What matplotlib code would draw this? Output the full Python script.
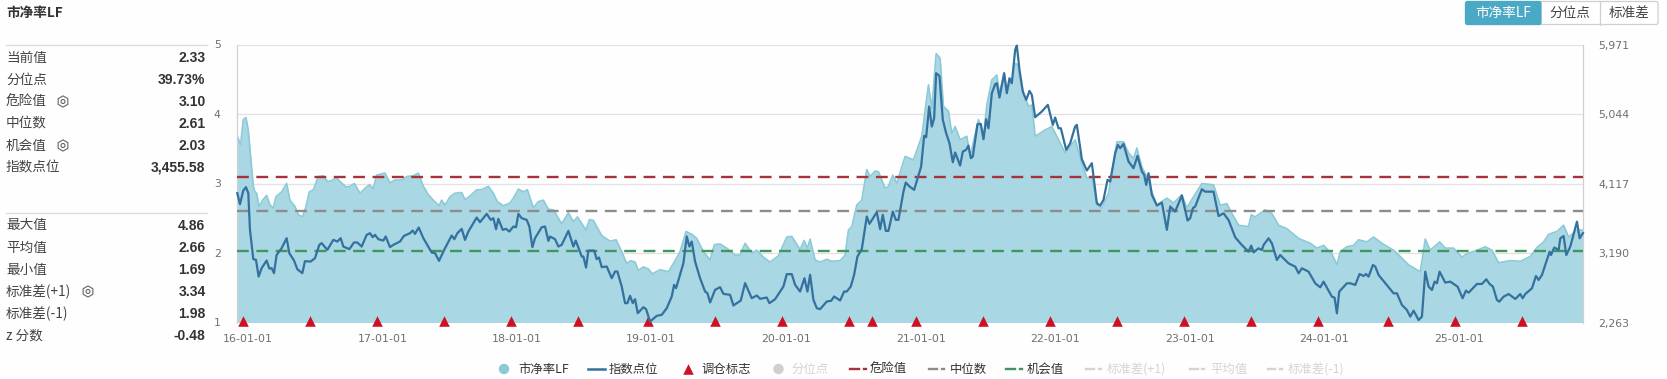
import matplotlib
matplotlib.use("Agg")
import matplotlib.pyplot as plt
from matplotlib.patches import FancyBboxPatch, RegularPolygon, Circle

plt.rcParams['font.family'] = ['Noto Sans CJK SC', 'DejaVu Sans']

# ---- data: x is the observation index along the category axis ----
pb_x = [0,10,18,26,33,48,53,58,65,76,88,98,108,116,133,148,158,173,183,196,206,216,228,243,258,270,283,296,308,326,338,351,368,383,396,408,418,443,458,473,493,508,528,543,558,573,588,605,613,623,638,653,673,683,698,718,733,753,768,780,798,818,828,843,858,870,888,903,918,933,948,973,993,1008,1020,1046,1056,1068,1093,1118,1136,1153,1168,1180,1193,1203,1218,1233,1245,1268,1293,1313,1328,1346,1363,1378,1398,1418,1431,1448,
        1468,1493,1508,1523,1543,1558,1578,1598,1623,1648,1663,1688,1700,1710,1718,1733,1748,1768,1783,1808,1823,1833,1843,1858,1873,1888,1898,1913,1923,1943,1953,1966,1978,1993,2003,2028,2053,2073,2083,2096,2108,2118,2133,2143,2153,2168,2188,2198,2223,2238,2248,2263,2278,2286,2300,2308,2323,2333,2341,2348,2358,2373,2383,2393,2423,2443,2458,2483,2513,2533,2548,2563,2578,2593,2613,2638,2658,2673,2688,2698,2713,2728,2743,2758,2788,2808,2833,2848,2868,2893,
        2928,2948,2968,2983,3003,3033,3041,3053,3083,3103,3123,3148,3183,3218,3238,3258,3283,3298,3308,3328,3348,3363,3388,3408,3433,3468,3488,3513,3548,3563,3578,3606,3623,3648,3673,3688,3718,3743,3763,3783,3818,3848,3878,3898,3918,3933,3958,3978,3993,4018,4036]
pb_y = [3.68,3.56,3.92,3.95,3.77,2.96,2.88,2.86,2.67,2.76,2.83,2.69,2.65,2.81,2.88,3.00,2.76,2.67,2.55,2.52,2.67,2.88,2.91,3.10,3.11,3.03,3.04,3.09,3.03,2.95,2.96,3.00,2.86,2.93,2.98,2.93,3.12,3.15,3.01,3.05,3.05,3.10,3.11,3.15,2.96,2.84,2.76,2.68,2.76,2.69,2.81,2.86,2.87,2.77,2.82,2.91,2.91,2.96,2.86,2.74,2.68,2.72,2.79,2.92,2.88,2.91,2.65,2.74,2.76,2.63,2.62,2.42,2.58,2.45,2.52,2.33,2.48,2.47,2.25,2.17,2.19,2.02,1.85,1.89,1.87,1.75,1.80,1.77,1.70,1.76,1.73,1.89,2.02,2.31,2.27,2.21,2.02,1.90,2.12,2.13,
        2.07,1.97,1.97,2.14,2.00,2.04,1.94,1.87,1.96,2.23,2.24,2.05,2.18,2.07,2.20,1.90,1.87,1.91,1.88,1.89,1.97,2.33,2.38,2.69,2.76,3.20,3.10,3.18,3.17,2.93,2.96,3.12,3.00,3.24,3.39,3.34,3.68,4.42,4.08,4.87,4.80,4.11,4.04,3.72,3.82,3.63,3.68,3.39,3.92,3.68,4.13,4.49,4.56,4.30,4.59,4.32,4.49,4.73,4.71,4.49,4.30,4.11,4.13,3.68,3.77,3.82,3.68,3.44,3.63,3.29,3.08,3.10,2.69,2.65,2.86,3.60,3.60,3.44,3.36,3.51,3.24,3.10,2.88,2.69,2.79,2.72,2.84,2.65,2.81,3.00,
        2.98,2.69,2.71,2.57,2.40,2.38,2.55,2.52,2.62,2.57,2.40,2.35,2.21,2.14,2.07,2.11,1.99,1.83,2.02,2.09,2.11,2.19,2.16,2.23,2.14,2.04,1.95,1.83,1.73,2.20,2.04,2.16,2.07,2.07,1.94,1.99,2.04,2.09,2.04,1.86,1.89,1.88,1.95,2.08,2.16,2.27,2.31,2.40,2.23,2.33,2.33]

idx_x = [0,8,18,26,33,38,48,56,64,73,88,96,103,110,118,133,148,156,170,180,195,203,220,233,246,253,270,288,300,310,318,336,350,360,373,388,398,406,413,423,438,445,458,468,488,500,518,526,533,544,558,583,593,605,623,643,651,660,673,683,693,718,728,748,760,768,776,783,796,806,816,828,836,843,853,868,876,885,893,913,923,933,938,953,963,973,993,1008,1015,1033,1038,1046,1053,1070,1078,1085,1093,1108,1123,1133,1140,1153,1163,1170,1178,1186,1193,1201,1218,1226,1238,1258,1273,1288,1303,1310,1316,1338,1348,1356,1363,1373,1388,1403,1410,1418,1433,1448,
         1458,1478,1488,1510,1523,1543,1558,1568,1588,1596,1613,1638,1648,1663,1673,1688,1701,1710,1718,1728,1738,1748,1768,1781,1790,1808,1820,1828,1840,1850,1860,1873,1888,1896,1918,1928,1936,1945,1953,1966,1975,1983,1998,2005,2016,2030,2051,2060,2066,2075,2083,2090,2096,2106,2116,2126,2136,2146,2153,2168,2176,2186,2193,2200,2206,2220,2230,2238,2246,2253,2263,2273,2278,2286,2300,2308,2316,2323,2333,2338,2346,2356,2366,2376,2383,2393,2413,2431,2446,2453,2463,2470,2486,2498,2513,2518,2533,2548,2563,2578,2588,2598,2610,2618,2633,2641,2648,2658,2673,2688,2700,2713,2720,2726,2733,2743,2758,2773,2788,2798,2813,2833,2850,2858,2866,2873,2893,
         2903,2928,2943,2958,2973,2993,3013,3033,3041,3048,3063,3073,3078,3093,3103,3118,3128,3153,3173,3183,3193,3213,3233,3248,3258,3283,3291,3298,3305,3328,3338,3353,3366,3378,3385,3393,3406,3413,3423,3468,3478,3493,3508,3518,3528,3543,3553,3563,3573,3583,3591,3598,3606,3623,3638,3660,3675,3685,3693,3718,3733,3746,3756,3766,3778,3785,3798,3813,3833,3848,3855,3863,3883,3895,3903,3913,3936,3940,3950,3963,3968,3978,3986,3998,4018,4026,4036]
idx_y = [3988,3841,4023,4068,3988,3499,3108,3099,2876,2988,3090,2983,2988,2921,3165,3254,3388,3188,3090,2974,2921,3081,3076,3121,3299,3321,3232,3365,3343,3388,3276,3241,3330,3330,3276,3432,3454,3401,3432,3374,3356,3410,3268,3299,3343,3419,3454,3490,3445,3530,3388,3196,3188,3085,3254,3423,3374,3454,3512,3365,3476,3663,3601,3712,3632,3654,3508,3645,3499,3512,3476,3543,3534,3712,3654,3632,3543,3268,3388,3534,3543,3352,3410,3374,3276,3299,3485,3276,3356,3143,3143,2996,3223,3223,3108,3130,3001,3010,2854,2943,2943,2743,2521,2521,2619,2521,2574,2387,2467,2441,2276,2352,2365,2454,2610,2765,2721,3054,3410,3276,3343,3076,2854,2676,2654,2530,2699,2734,
         2645,2632,2490,2556,2788,2587,2623,2579,2596,2521,2574,2743,2908,2908,2765,2676,2854,2676,2899,2565,2454,2441,2543,2552,2610,2556,2676,2676,2743,2899,3143,3241,3677,3579,3734,3508,3699,3485,3485,3743,3632,3632,4010,4130,4077,4032,4343,4752,4734,5143,4877,4988,5588,5552,4966,4788,4654,4401,4530,4357,4543,4566,4623,4454,4477,4908,4912,4708,4974,4854,5321,5441,5455,5263,5588,5321,5521,5455,5899,5957,5632,5343,5232,5352,5299,5001,5077,5166,4899,4997,4854,4854,4566,4654,4877,4899,4441,4290,4388,3854,3823,3899,4165,4143,4521,4632,4588,4646,4410,4321,4485,4277,4232,4099,4254,3965,3823,3863,3499,3810,3743,3957,3623,3654,3788,3810,4041,
         4008,4008,3683,3719,3630,3399,3296,3208,3288,3199,3252,3230,3296,3386,3319,3097,3163,3052,3008,2919,2986,2941,2786,2732,2808,2608,2594,2385,2675,2786,2786,2764,2910,2883,2910,2875,3030,3008,2897,2652,2652,2497,2430,2341,2421,2296,2341,2941,2741,2697,2808,2786,2941,2795,2808,2741,2586,2688,2661,2777,2777,2839,2777,2741,2563,2541,2608,2643,2577,2643,2586,2643,2719,2883,2830,2897,3208,3163,3263,3230,3386,3416,3163,3276,3608,3386,3456]

marker_x = [17,217,419,620,821,1022,1232,1433,1634,1835,1904,2036,2237,2438,2638,2840,3040,3241,3451,3653,3853]
marker_y = [1.02] * len(marker_x)

danger_value = 3.10
median_value = 2.61
chance_value = 2.03

x_tick_pos = [32,436,839,1241,1646,2051,2453,2858,3260,3665]
x_tick_labels = ['16-01-01','17-01-01','18-01-01','19-01-01','20-01-01','21-01-01','22-01-01','23-01-01','24-01-01','25-01-01']
left_ticks = [1,2,3,4,5]
right_ticks = [2263,3190,4117,5044,5971]
right_labels = ['2,263','3,190','4,117','5,044','5,971']

title = '市净率LF'
stats_top = [('当前值','2.33',False),('分位点','39.73%',False),('危险值','3.10',True),('中位数','2.61',False),('机会值','2.03',True),('指数点位','3,455.58',False)]
stats_bottom = [('最大值','4.86',False),('平均值','2.66',False),('最小值','1.69',False),('标准差(+1)','3.34',True),('标准差(-1)','1.98',False),('z 分数','-0.48',False)]
buttons = ['市净率LF','分位点','标准差']

# ---- colours ----
FILL = '#a9d7e3'
FILL_EDGE = '#8ccad6'
LINE = '#34719f'
RED = '#a8323a'
GREY = '#8c8c8c'
GREEN = '#3f9661'
MARK = '#d01020'
TXT = '#333333'
TICK = '#6f6f6f'
OFF = '#d4d4d4'

W, H = 1667, 379
fig = plt.figure(figsize=(W/100, H/100), dpi=100, facecolor='#fefefe')

L, R, T, B = 237.3, 1583.3, 44.5, 322.5
ax = fig.add_axes([L/W, 1-B/H, (R-L)/W, (B-T)/H], facecolor='#fefefe')
ax.set_xlim(0, 4037)
ax.set_ylim(1, 5)
ax.fill_between(pb_x, 1, pb_y, color=FILL, lw=0, zorder=2)
ax.plot(pb_x, pb_y, color=FILL_EDGE, lw=1.2, zorder=2.5)
for v, c in [(danger_value, RED), (median_value, GREY), (chance_value, GREEN)]:
    ax.axhline(v, color=c, lw=1.7, dashes=(5, 3.2), zorder=3)
ax.scatter(marker_x, marker_y, marker='^', s=58, color=MARK, lw=0, zorder=4, clip_on=False)
ax.set_yticks(left_ticks)
ax.grid(axis='y', color='#e2e2e2', lw=0.9, zorder=1)
ax.set_axisbelow(True)
ax.set_xticks(x_tick_pos)
ax.set_xticklabels(x_tick_labels, family='DejaVu Sans', fontsize=7.9, color=TICK)
ax.tick_params(axis='x', length=0, pad=8)
ax.tick_params(axis='y', length=0, pad=12, labelsize=7.8, labelcolor=TICK)
for s in ['top', 'bottom']:
    ax.spines[s].set_visible(False)
for s in ['left', 'right']:
    ax.spines[s].set_color('#d0d0d0')
    ax.spines[s].set_linewidth(0.9)
for t in ax.get_yticklabels():
    t.set_family('DejaVu Sans')

ax2 = ax.twinx()
ax2.set_ylim(2263, 5971)
ax2.plot(idx_x, idx_y, color=LINE, lw=1.6, zorder=5, clip_on=False, solid_joinstyle='round')
ax2.set_yticks(right_ticks)
ax2.set_yticklabels(right_labels, family='DejaVu Sans', fontsize=7.8, color=TICK)
ax2.tick_params(axis='y', length=0, pad=11)
for s in ax2.spines.values():
    s.set_visible(False)

# ---- overlay in pixel coordinates for panel, buttons and legend ----
ov = fig.add_axes([0, 0, 1, 1], facecolor='none', zorder=10)
ov.set_xlim(0, W)
ov.set_ylim(H, 0)
ov.axis('off')

def gear(x, y):
    ov.add_patch(RegularPolygon((x, y), 6, radius=5.6, fill=False, ec='#666666', lw=0.8))
    ov.add_patch(Circle((x, y), 2.0, fill=False, ec='#666666', lw=0.8))

ov.text(6, 12.5, title, fontsize=9.8, fontweight='bold', color=TXT, va='center', ha='left')
ov.plot([6, 207], [45, 45], color='#dcdcdc', lw=0.9)
ov.plot([6, 207], [213, 213], color='#dcdcdc', lw=0.9)

def rows(items, y0):
    for i, (lab, val, has_gear) in enumerate(items):
        y = y0 + i * 22
        ov.text(6, y, lab, fontsize=9.8, color='#444444', va='center', ha='left')
        ov.text(205.5, y, val, fontsize=10, fontweight='bold', color=TXT, va='center', ha='right', family='Liberation Sans')
        if has_gear:
            gear(88 if '标准差' in lab else 63, y)

rows(stats_top, 57.5)
rows(stats_bottom, 225.5)

# buttons
ov.add_patch(FancyBboxPatch((1465.5, 1.5), 192.5, 23, boxstyle='round,pad=0,rounding_size=2', fc='#ffffff', ec='#cfcfcf', lw=0.9))
ov.add_patch(FancyBboxPatch((1465.5, 1.5), 75.5, 23, boxstyle='round,pad=0,rounding_size=2', fc='#4aa9c5', ec='#4aa9c5', lw=0.9))
ov.plot([1599.5, 1599.5], [1.5, 24.5], color='#cfcfcf', lw=0.9)
for cx, lab, col in zip([1503, 1570, 1629], buttons, ['#ffffff', '#444444', '#444444']):
    ov.text(cx, 13, lab, fontsize=9.8, color=col, va='center', ha='center')

# legend
LY = 369
LT = '#333333'
ov.add_patch(Circle((504, LY), 5.2, fc='#8cc8d6', ec='none'))
ov.text(518.5, LY, '市净率LF', fontsize=8.9, color=LT, va='center')
ov.plot([588, 605], [LY, LY], color=LINE, lw=1.8)
ov.text(609, LY, '指数点位', fontsize=8.9, color=LT, va='center')
ov.scatter([688], [LY], marker='^', s=58, color=MARK, lw=0)
ov.text(701, LY, '调仓标志', fontsize=8.9, color=LT, va='center')
ov.add_patch(Circle((778.5, LY), 5.2, fc='#cfcfcf', ec='none'))
ov.text(792, LY, '分位点', fontsize=8.9, color=OFF, va='center')

def dash(x0, x1, c, lab, tx, tc):
    m = x0 + (x1 - x0) * 0.55
    ov.plot([x0, m], [LY, LY], color=c, lw=1.7)
    ov.plot([x1 - 2, x1], [LY, LY], color=c, lw=1.7)
    ov.text(tx, LY, lab, fontsize=8.9, color=tc, va='center')

dash(850, 866, RED, '危险值', 870, LT)
dash(929, 944, GREY, '中位数', 949.5, LT)
dash(1006, 1022, GREEN, '机会值', 1027, LT)
dash(1085.5, 1101, OFF, '标准差(+1)', 1107, OFF)
dash(1190, 1204, OFF, '平均值', 1210, OFF)
dash(1267.5, 1282, OFF, '标准差(-1)', 1288, OFF)

fig.savefig('out.png', dpi=100, facecolor=fig.get_facecolor())
